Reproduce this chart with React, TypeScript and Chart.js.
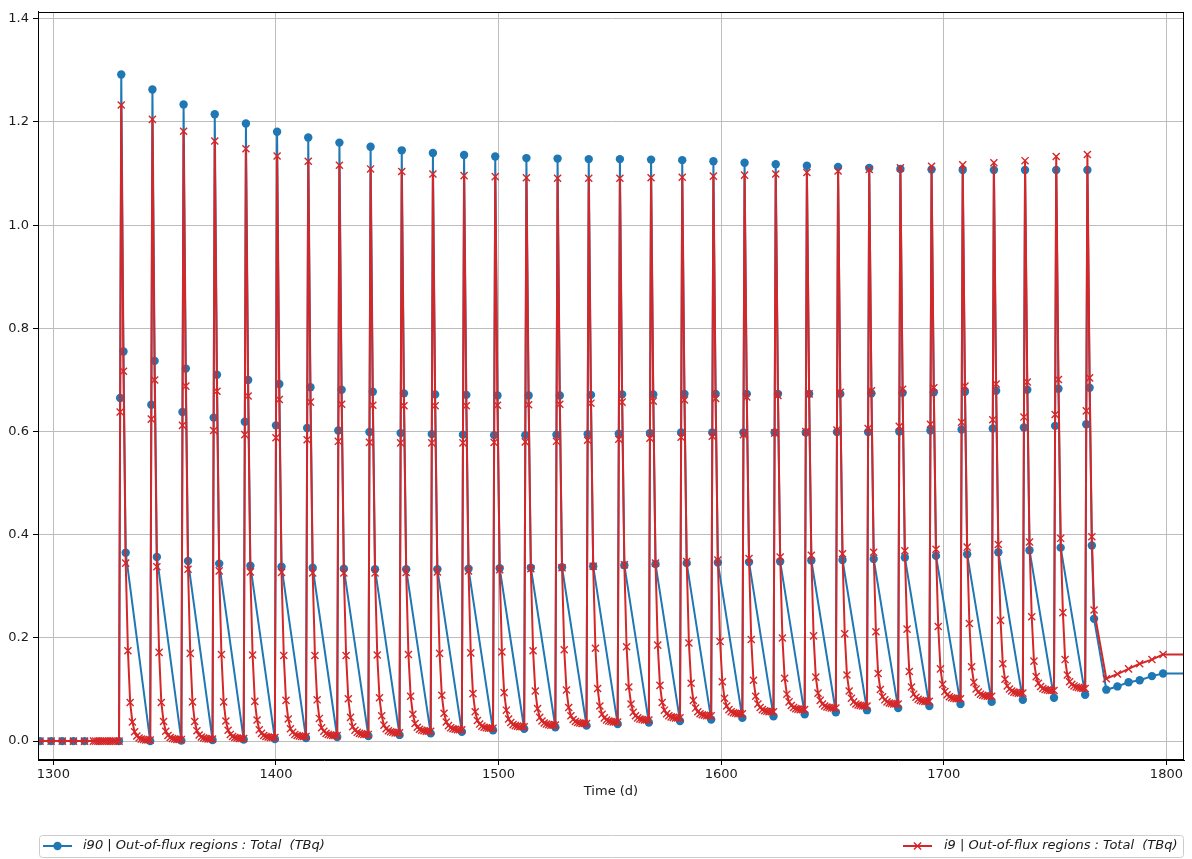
import React, { useEffect, useRef } from "react";
import { Chart, registerables } from "chart.js";

Chart.register(...registerables);

const FONT = "'DejaVu Sans', 'Liberation Sans', sans-serif";
const BLUE = "#1f77b4";
const RED = "#d62728";
const INK = "#1a1a1a";

// Axis limits and ticks
const X_MIN = 1293.1;
const X_MAX = 1807.9;
const Y_MIN = -0.0366;
const Y_MAX = 1.4135;
const X_STEP = 100;
const Y_STEP = 0.2;

const X_TITLE = "Time (d)";
const LABEL_I90 = "i90 | Out-of-flux regions : Total  (TBq)";
const LABEL_I9 = "i9 | Out-of-flux regions : Total  (TBq)";

// Quiet period before the first pulse
const blueLeadDays = [1294, 1299, 1304, 1309, 1314];
const blueLead = [0, 0, 0, 0, 0];
const redLeadDays = [1294, 1299, 1304, 1309, 1314, 1318, 1319, 1320, 1321, 1322, 1323, 1324, 1325, 1326, 1327, 1328];
const redLead = [0, 0, 0, 0, 0, 0, 0, 0, 0, 0, 0, 0, 0, 0, 0, 0];

// Start day of each pulse
const cycleStart = [
  1329.5, 1343.5, 1357.5, 1371.5, 1385.5, 1399.5, 1413.5, 1427.5, 1441.5, 1455.5, 1469.5,
  1483.5, 1497.5, 1511.5, 1525.5, 1539.5, 1553.5, 1567.5, 1581.5, 1595.5, 1609.5, 1623.5,
  1637.5, 1651.5, 1665.5, 1679.5, 1693.5, 1707.5, 1721.5, 1735.5, 1749.5, 1763.5,
];
// Day offsets of the samples inside a pulse: start, rise, peak, fall, knee
const pulseOffsets = [0, 0.5, 1, 2, 3];
// Day offsets of the i9 decay samples after the knee
const tailOffsets = [4, 5, 6, 7, 8, 9, 10, 11, 12, 13];

// i90 samples per pulse
const blueStart = [
  0, 0, 0.001, 0.002, 0.003, 0.004, 0.006, 0.008, 0.01, 0.012, 0.015, 0.018, 0.021, 0.024, 0.027, 0.03,
  0.033, 0.036, 0.039, 0.042, 0.045, 0.048, 0.052, 0.056, 0.06, 0.064, 0.068, 0.072, 0.076, 0.08, 0.084, 0.09,
];
const blueRise = [
  0.665, 0.652, 0.638, 0.627, 0.619, 0.612, 0.607, 0.602, 0.599, 0.597, 0.595, 0.594, 0.593, 0.593, 0.594, 0.595,
  0.596, 0.597, 0.598, 0.598, 0.598, 0.598, 0.598, 0.599, 0.599, 0.6, 0.602, 0.604, 0.606, 0.608, 0.611, 0.614,
];
const bluePeak = [
  1.292, 1.263, 1.234, 1.215, 1.197, 1.181, 1.17, 1.16, 1.152, 1.145, 1.14, 1.136, 1.133, 1.13, 1.129, 1.128,
  1.128, 1.127, 1.126, 1.124, 1.121, 1.118, 1.115, 1.113, 1.111, 1.109, 1.108, 1.107, 1.107, 1.107, 1.107, 1.107,
];
const blueFall = [
  0.755, 0.737, 0.722, 0.71, 0.7, 0.692, 0.686, 0.681, 0.677, 0.674, 0.672, 0.671, 0.67, 0.67, 0.67, 0.671,
  0.672, 0.672, 0.673, 0.673, 0.673, 0.673, 0.673, 0.673, 0.674, 0.675, 0.676, 0.677, 0.679, 0.681, 0.683, 0.685,
];
const blueKnee = [
  0.365, 0.357, 0.349, 0.344, 0.34, 0.338, 0.336, 0.334, 0.333, 0.333, 0.333, 0.334, 0.335, 0.336, 0.337, 0.339,
  0.341, 0.343, 0.345, 0.346, 0.347, 0.348, 0.35, 0.351, 0.353, 0.356, 0.359, 0.362, 0.366, 0.37, 0.375, 0.379,
];

// i9 samples per pulse
const redStart = [
  0, 0.002, 0.003, 0.004, 0.005, 0.007, 0.009, 0.011, 0.013, 0.016, 0.019, 0.022, 0.025, 0.028, 0.031, 0.034,
  0.037, 0.041, 0.045, 0.049, 0.053, 0.057, 0.061, 0.064, 0.068, 0.072, 0.077, 0.082, 0.087, 0.093, 0.098, 0.102,
];
const redRise = [
  0.638, 0.624, 0.612, 0.602, 0.594, 0.588, 0.584, 0.581, 0.579, 0.578, 0.578, 0.578, 0.579, 0.58, 0.581, 0.583,
  0.585, 0.587, 0.589, 0.591, 0.594, 0.597, 0.6, 0.603, 0.606, 0.61, 0.614, 0.618, 0.623, 0.628, 0.633, 0.64,
];
const redPeak = [
  1.233, 1.205, 1.182, 1.163, 1.148, 1.134, 1.124, 1.116, 1.109, 1.104, 1.099, 1.096, 1.094, 1.092, 1.091, 1.091,
  1.091, 1.092, 1.093, 1.095, 1.097, 1.099, 1.102, 1.105, 1.108, 1.111, 1.114, 1.117, 1.121, 1.125, 1.133, 1.137,
];
const redFall = [
  0.717, 0.7, 0.688, 0.678, 0.669, 0.662, 0.657, 0.653, 0.651, 0.65, 0.65, 0.65, 0.651, 0.652, 0.653, 0.655,
  0.657, 0.659, 0.661, 0.664, 0.667, 0.67, 0.673, 0.676, 0.679, 0.682, 0.685, 0.688, 0.692, 0.696, 0.701, 0.704,
];
const redKnee = [
  0.345, 0.338, 0.333, 0.33, 0.328, 0.327, 0.326, 0.326, 0.326, 0.327, 0.328, 0.33, 0.332, 0.334, 0.336, 0.339,
  0.342, 0.345, 0.348, 0.351, 0.354, 0.357, 0.36, 0.363, 0.366, 0.369, 0.372, 0.376, 0.381, 0.386, 0.393, 0.396,
];
// i9 decay between pulses (days 4..13 of each pulse)
const redTail = [
  [0.175, 0.075, 0.037, 0.018, 0.01, 0.006, 0.004, 0.003, 0.002, 0.002],
  [0.172, 0.075, 0.038, 0.019, 0.011, 0.007, 0.005, 0.004, 0.003, 0.003],
  [0.17, 0.076, 0.038, 0.02, 0.012, 0.008, 0.006, 0.005, 0.004, 0.004],
  [0.168, 0.076, 0.039, 0.021, 0.013, 0.009, 0.007, 0.006, 0.005, 0.005],
  [0.167, 0.077, 0.041, 0.022, 0.015, 0.011, 0.009, 0.008, 0.007, 0.007],
  [0.166, 0.079, 0.043, 0.024, 0.017, 0.013, 0.011, 0.01, 0.009, 0.009],
  [0.166, 0.08, 0.044, 0.026, 0.019, 0.015, 0.013, 0.012, 0.011, 0.011],
  [0.166, 0.082, 0.046, 0.028, 0.021, 0.017, 0.015, 0.014, 0.013, 0.013],
  [0.167, 0.084, 0.049, 0.031, 0.024, 0.02, 0.018, 0.017, 0.016, 0.016],
  [0.168, 0.087, 0.052, 0.034, 0.027, 0.023, 0.021, 0.02, 0.019, 0.019],
  [0.17, 0.089, 0.054, 0.037, 0.03, 0.026, 0.024, 0.023, 0.022, 0.022],
  [0.171, 0.092, 0.057, 0.04, 0.033, 0.029, 0.027, 0.026, 0.025, 0.025],
  [0.173, 0.094, 0.06, 0.043, 0.036, 0.032, 0.03, 0.029, 0.028, 0.028],
  [0.175, 0.097, 0.063, 0.046, 0.039, 0.035, 0.033, 0.032, 0.031, 0.031],
  [0.177, 0.099, 0.065, 0.049, 0.042, 0.038, 0.036, 0.035, 0.034, 0.034],
  [0.18, 0.102, 0.068, 0.052, 0.045, 0.041, 0.039, 0.038, 0.037, 0.037],
  [0.183, 0.105, 0.072, 0.056, 0.049, 0.045, 0.043, 0.042, 0.041, 0.041],
  [0.186, 0.108, 0.075, 0.06, 0.053, 0.049, 0.047, 0.046, 0.045, 0.045],
  [0.19, 0.112, 0.079, 0.064, 0.057, 0.053, 0.051, 0.05, 0.049, 0.049],
  [0.193, 0.115, 0.083, 0.068, 0.061, 0.057, 0.055, 0.054, 0.053, 0.053],
  [0.197, 0.118, 0.087, 0.072, 0.065, 0.061, 0.059, 0.058, 0.057, 0.057],
  [0.2, 0.122, 0.091, 0.076, 0.069, 0.065, 0.063, 0.062, 0.061, 0.061],
  [0.204, 0.124, 0.093, 0.079, 0.072, 0.068, 0.066, 0.065, 0.064, 0.064],
  [0.208, 0.128, 0.097, 0.083, 0.076, 0.072, 0.07, 0.069, 0.068, 0.068],
  [0.212, 0.131, 0.1, 0.086, 0.08, 0.076, 0.074, 0.073, 0.072, 0.072],
  [0.217, 0.135, 0.105, 0.091, 0.085, 0.081, 0.079, 0.078, 0.077, 0.077],
  [0.222, 0.14, 0.11, 0.096, 0.09, 0.086, 0.084, 0.083, 0.082, 0.082],
  [0.228, 0.144, 0.114, 0.101, 0.095, 0.091, 0.089, 0.088, 0.087, 0.087],
  [0.234, 0.15, 0.12, 0.107, 0.101, 0.097, 0.095, 0.094, 0.093, 0.093],
  [0.241, 0.155, 0.125, 0.112, 0.106, 0.102, 0.1, 0.099, 0.098, 0.098],
  [0.249, 0.158, 0.128, 0.115, 0.11, 0.107, 0.105, 0.104, 0.103, 0.102],
];

// After the last pulse
const afterDays = [1767.5, 1773, 1778, 1783, 1788, 1793.5, 1798.5, 1813.5];
const blueAfter = [0.237, 0.0997, 0.106, 0.114, 0.118, 0.126, 0.131, 0.131];
const redAfter = [0.254, 0.121, 0.13, 0.14, 0.15, 0.158, 0.168, 0.168];

type Pt = { x: number; y: number };

function buildBlue(): Pt[] {
  const pts: Pt[] = blueLeadDays.map((d, i) => ({ x: d, y: blueLead[i] }));
  cycleStart.forEach((t, k) => {
    const vals = [blueStart[k], blueRise[k], bluePeak[k], blueFall[k], blueKnee[k]];
    vals.forEach((v, j) => pts.push({ x: t + pulseOffsets[j], y: v }));
  });
  afterDays.forEach((d, i) => pts.push({ x: d, y: blueAfter[i] }));
  return pts;
}

function buildRed(): Pt[] {
  const pts: Pt[] = redLeadDays.map((d, i) => ({ x: d, y: redLead[i] }));
  cycleStart.forEach((t, k) => {
    const vals = [redStart[k], redRise[k], redPeak[k], redFall[k], redKnee[k]];
    vals.forEach((v, j) => pts.push({ x: t + pulseOffsets[j], y: v }));
    const tail = redTail[k];
    if (tail) tail.forEach((v, j) => pts.push({ x: t + tailOffsets[j], y: v }));
  });
  afterDays.forEach((d, i) => pts.push({ x: d, y: redAfter[i] }));
  return pts;
}

// Spines, x-axis title and the expanded two-column legend
const decorPlugin = {
  id: "decor",
  afterDraw(chart: any) {
    const { ctx, chartArea: a } = chart;
    ctx.save();
    // frame around the plot area
    ctx.strokeStyle = "#000";
    ctx.lineWidth = 1;
    const l = Math.round(a.left) + 0.5;
    const t = Math.round(a.top) + 0.5;
    const r = Math.round(a.right) - 0.5;
    const b = Math.round(a.bottom) - 0.5;
    ctx.strokeRect(l, t, r - l, b - t);

    // axis title
    ctx.fillStyle = INK;
    ctx.font = `13px ${FONT}`;
    ctx.textAlign = "center";
    ctx.textBaseline = "middle";
    ctx.fillText(X_TITLE, (a.left + a.right) / 2, 792);

    // legend frame
    const fy = 835.5;
    const fh = 22;
    ctx.beginPath();
    ctx.roundRect(39.5, fy, r - 39.5, fh, 3);
    ctx.fillStyle = "rgba(255,255,255,0.8)";
    ctx.fill();
    ctx.strokeStyle = "#cccccc";
    ctx.stroke();

    const ly = 846;
    // i90 handle
    ctx.strokeStyle = BLUE;
    ctx.lineWidth = 2;
    ctx.beginPath();
    ctx.moveTo(43, ly);
    ctx.lineTo(72, ly);
    ctx.stroke();
    ctx.fillStyle = BLUE;
    ctx.beginPath();
    ctx.arc(57.5, ly, 4.2, 0, Math.PI * 2);
    ctx.fill();
    // i9 handle
    ctx.strokeStyle = RED;
    ctx.beginPath();
    ctx.moveTo(903, ly);
    ctx.lineTo(932, ly);
    ctx.stroke();
    ctx.lineWidth = 1.4;
    const c = 3.6;
    ctx.beginPath();
    ctx.moveTo(917.5 - c, ly - c);
    ctx.lineTo(917.5 + c, ly + c);
    ctx.moveTo(917.5 - c, ly + c);
    ctx.lineTo(917.5 + c, ly - c);
    ctx.stroke();

    ctx.fillStyle = INK;
    ctx.font = `italic 13px ${FONT}`;
    ctx.textAlign = "left";
    ctx.fillText(LABEL_I90, 83, ly);
    ctx.fillText(LABEL_I9, 944, ly);
    ctx.restore();
  },
};

export default function App() {
  const ref = useRef<HTMLCanvasElement | null>(null);

  useEffect(() => {
    if (!ref.current) return;
    const chart = new Chart(ref.current, {
      type: "line",
      data: {
        datasets: [
          {
            label: LABEL_I90,
            data: buildBlue(),
            borderColor: BLUE,
            backgroundColor: BLUE,
            borderWidth: 2,
            borderJoinStyle: "round",
            pointStyle: "circle",
            pointRadius: 4.2,
            pointBorderWidth: 0,
            pointBackgroundColor: BLUE,
            order: 1,
          },
          {
            label: LABEL_I9,
            data: buildRed(),
            borderColor: RED,
            backgroundColor: RED,
            borderWidth: 2,
            borderJoinStyle: "round",
            pointStyle: "crossRot",
            pointRadius: 5,
            pointBorderWidth: 1.4,
            pointBorderColor: RED,
            order: 0,
          },
        ],
      },
      options: {
        responsive: false,
        animation: false,
        events: [],
        layout: { padding: { left: 0, top: 8, right: 8, bottom: 0 } },
        plugins: {
          legend: { display: false },
          tooltip: { enabled: false },
          title: { display: false },
        },
        scales: {
          x: {
            type: "linear",
            min: X_MIN,
            max: X_MAX,
            afterFit: (s: any) => {
              s.height = 99;
            },
            ticks: {
              stepSize: X_STEP,
              includeBounds: false,
              color: INK,
              font: { family: FONT, size: 13 },
              padding: 2,
              maxRotation: 0,
              callback: (v: any) => String(Math.round(Number(v))),
            },
            grid: {
              color: "#bdbdbd",
              lineWidth: 1,
              tickColor: "#000",
              tickLength: 5,
              tickWidth: 1,
            },
            border: { display: true, color: "#000", width: 1 },
          },
          y: {
            type: "linear",
            min: Y_MIN,
            max: Y_MAX,
            afterFit: (s: any) => {
              s.width = 38;
            },
            ticks: {
              stepSize: Y_STEP,
              includeBounds: false,
              color: INK,
              font: { family: FONT, size: 13 },
              padding: 4,
              callback: (v: any) => Number(v).toFixed(1),
            },
            grid: {
              color: "#bdbdbd",
              lineWidth: 1,
              tickColor: "#000",
              tickLength: 5,
              tickWidth: 1,
            },
            border: { display: true, color: "#000", width: 1 },
          },
        },
      },
      plugins: [decorPlugin],
    });
    return () => chart.destroy();
  }, []);

  return (
    <canvas
      ref={ref}
      width={1192}
      height={859}
      style={{ position: "fixed", left: 0, top: 0, display: "block", background: "#fff" }}
    />
  );
}
